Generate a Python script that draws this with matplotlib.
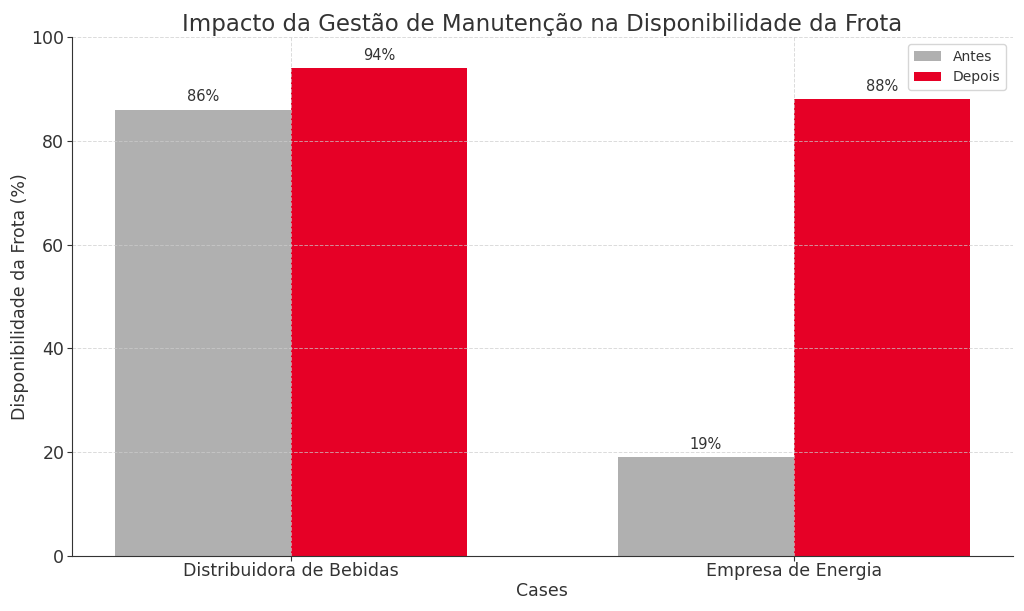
import numpy as np
import matplotlib.pyplot as plt

# data
cases = ['Distribuidora de Bebidas', 'Empresa de Energia']
antes = [86, 19]
depois = [94, 88]

text_color = '#333333'
plt.rcParams['text.color'] = text_color
plt.rcParams['axes.labelcolor'] = text_color
plt.rcParams['xtick.color'] = text_color
plt.rcParams['ytick.color'] = text_color

fig, ax = plt.subplots(figsize=(10.24, 6.11), dpi=100)

x = np.arange(len(cases))
width = 0.35
b1 = ax.bar(x - width / 2, antes, width, label='Antes', color='#b0b0b0')
b2 = ax.bar(x + width / 2, depois, width, label='Depois', color='#e60026')

for bars in (b1, b2):
    for bar in bars:
        h = bar.get_height()
        ax.annotate(f'{h:.0f}%', xy=(bar.get_x() + bar.get_width() / 2, h),
                    xytext=(0, 4), textcoords='offset points',
                    ha='center', va='bottom', fontsize=10.5, color=text_color)

ax.set_title('Impacto da Gestão de Manutenção na Disponibilidade da Frota', fontsize=16.5,
             color=text_color, pad=4)
ax.set_xlabel('Cases', fontsize=12.5, labelpad=2)
ax.set_ylabel('Disponibilidade da Frota (%)', fontsize=12.5, labelpad=2)
ax.set_xticks(x)
ax.set_xticklabels(cases, fontsize=12.5)
ax.tick_params(axis='x', pad=0.5)
ax.tick_params(axis='y', labelsize=12.5, pad=2)
ax.set_ylim(0, 100)
ax.grid(True, linestyle='--', color='#cccccc', alpha=0.7, linewidth=0.7)
ax.spines['top'].set_visible(False)
ax.spines['right'].set_visible(False)
ax.spines['left'].set_color(text_color)
ax.spines['bottom'].set_color(text_color)
ax.legend(fontsize=10)

fig.subplots_adjust(left=0.0703, right=0.989, top=0.9394, bottom=0.090)
plt.savefig('out.png')
